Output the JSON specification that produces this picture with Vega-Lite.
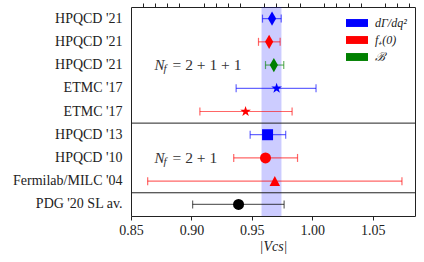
{
  "$schema": "https://vega.github.io/schema/vega-lite/v6.json",
  "width": 284,
  "height": 209,
  "autosize": {"type": "none"},
  "padding": {"left": 131, "top": 7, "right": 9, "bottom": 46},
  "config": {
    "view": {"stroke": "#222", "strokeWidth": 1},
    "font": "Liberation Serif"
  },
  "resolve": {"axis": {"x": "independent"}},
  "datasets": {
    "res": [
      {"key": "HPQCD '21|1", "obs": "dΓ/dq²", "marker": "diamond", "v": 0.9667, "lo": 0.9588, "hi": 0.9743},
      {"key": "HPQCD '21|2", "obs": "f₊(0)", "marker": "diamond", "v": 0.9643, "lo": 0.9555, "hi": 0.9734},
      {"key": "HPQCD '21|3", "obs": "ℬ", "marker": "diamond", "v": 0.9682, "lo": 0.9613, "hi": 0.9764},
      {"key": "ETMC '17|4", "obs": "dΓ/dq²", "marker": "star", "v": 0.9705, "lo": 0.937, "hi": 1.0031},
      {"key": "ETMC '17|5", "obs": "f₊(0)", "marker": "star", "v": 0.9448, "lo": 0.907, "hi": 0.9833},
      {"key": "HPQCD '13|6", "obs": "dΓ/dq²", "marker": "square", "v": 0.963, "lo": 0.9486, "hi": 0.978},
      {"key": "HPQCD '10|7", "obs": "f₊(0)", "marker": "circle", "v": 0.9613, "lo": 0.935, "hi": 0.9878},
      {"key": "Fermilab/MILC '04|8", "obs": "f₊(0)", "marker": "triangle", "v": 0.969, "lo": 0.8638, "hi": 1.0742},
      {"key": "PDG '20 SL av.|9", "obs": "PDG", "marker": "circle", "v": 0.939, "lo": 0.901, "hi": 0.9767}
    ],
    "band": [{"lo": 0.958, "hi": 0.9745}],
    "sep": [{"key": "HPQCD '13|6"}, {"key": "PDG '20 SL av.|9"}],
    "ann": [
      {"key": "HPQCD '21|3", "x": 0.8695, "n": "N", "f": "f", "rest": "= 2 + 1 + 1"},
      {"key": "HPQCD '10|7", "x": 0.8695, "n": "N", "f": "f", "rest": "= 2 + 1"}
    ]
  },
  "layer": [
    {
      "data": {"name": "band"},
      "mark": {"type": "rect", "fill": "#0000ff", "opacity": 0.2},
      "encoding": {
        "x": {"field": "lo", "type": "quantitative",
          "scale": {"domain": [0.85, 1.085], "nice": false, "zero": false},
          "axis": {
            "values": [0.85, 0.9, 0.95, 1.0, 1.05],
            "format": ".2f",
            "labelOverlap": false, "labelFlush": false,
            "domain": false, "grid": false,
            "tickSize": 4, "tickColor": "#222", "tickWidth": 1,
            "labelFont": "Liberation Serif", "labelFontSize": 14, "labelColor": "#222", "labelPadding": 3,
            "title": "|Vcs|", "titleFont": "Liberation Serif", "titleFontSize": 14,
            "titleFontStyle": "italic", "titleFontWeight": "normal", "titleColor": "#222", "titlePadding": 2
          }},
        "x2": {"field": "hi"}
      }
    },
    {
      "data": {"name": "sep"},
      "mark": {"type": "rule", "color": "#222", "strokeWidth": 1},
      "encoding": {
        "y": {"field": "key", "type": "nominal", "bandPosition": 0}
      }
    },
    {
      "data": {"name": "res"},
      "mark": {"type": "rule", "strokeWidth": 1.2, "opacity": 0.6},
      "encoding": {
        "y": {"field": "key", "type": "nominal",
          "scale": {"domain": ["HPQCD '21|1","HPQCD '21|2","HPQCD '21|3","ETMC '17|4","ETMC '17|5","HPQCD '13|6","HPQCD '10|7","Fermilab/MILC '04|8","PDG '20 SL av.|9"], "paddingInner": 0, "paddingOuter": 0},
          "axis": {"title": null, "ticks": false, "domain": false, "labelExpr": "split(datum.label, '|')[0]",
            "labelFont": "Liberation Serif", "labelFontSize": 14, "labelColor": "#222", "labelPadding": 9}},
        "x": {"field": "lo", "type": "quantitative",
          "axis": {
            "values": [0.86,0.87,0.88,0.89,0.91,0.92,0.93,0.94,0.96,0.97,0.98,0.99,1.01,1.02,1.03,1.04,1.06,1.07,1.08],
            "labels": false, "domain": false, "grid": false, "title": null,
            "tickSize": 4, "tickColor": "#222", "tickWidth": 1}},
        "x2": {"field": "hi"},
        "stroke": {"field": "obs", "type": "nominal", "legend": null,
          "scale": {"domain": ["dΓ/dq²", "f₊(0)", "ℬ", "PDG"], "range": ["#0000ff", "#ff0000", "#008000", "#000000"]}}
      }
    },
    {
      "data": {"name": "res"},
      "mark": {"type": "tick", "size": 8, "thickness": 1.2, "opacity": 0.6, "orient": "vertical"},
      "encoding": {
        "y": {"field": "key", "type": "nominal"},
        "x": {"field": "lo", "type": "quantitative", "axis": null},
        "fill": {"field": "obs", "type": "nominal", "legend": null,
          "scale": {"domain": ["dΓ/dq²", "f₊(0)", "ℬ", "PDG"], "range": ["#0000ff", "#ff0000", "#008000", "#000000"]}}
      }
    },
    {
      "data": {"name": "res"},
      "mark": {"type": "tick", "size": 8, "thickness": 1.2, "opacity": 0.6, "orient": "vertical"},
      "encoding": {
        "y": {"field": "key", "type": "nominal"},
        "x": {"field": "hi", "type": "quantitative", "axis": null},
        "fill": {"field": "obs", "type": "nominal", "legend": null}
      }
    },
    {
      "data": {"name": "res"},
      "transform": [{"filter": "datum.marker == 'diamond'"}],
      "mark": {"type": "point", "filled": true, "opacity": 1, "strokeWidth": 0, "shape": "M0,-1L0.58,0L0,1L-0.58,0Z", "size": 200},
      "encoding": {
        "y": {"field": "key", "type": "nominal"},
        "x": {"field": "v", "type": "quantitative", "axis": null},
        "color": {"field": "obs", "type": "nominal",
          "scale": {"domain": ["dΓ/dq²", "f₊(0)", "ℬ"], "range": ["#0000ff", "#ff0000", "#008000"]},
          "legend": {"orient": "none", "legendX": 215, "legendY": 5, "title": null,
            "symbolType": "M-1,-0.36L1,-0.36L1,0.36L-1,0.36Z", "symbolSize": 484,
            "symbolStrokeWidth": 0, "symbolOpacity": 1,
            "labelFont": "Liberation Serif", "labelFontStyle": "italic", "labelFontSize": 12, "labelColor": "#222",
            "labelOffset": 7, "rowPadding": -6}}
      }
    },
    {
      "data": {"name": "res"},
      "transform": [{"filter": "datum.marker == 'star'"}],
      "mark": {"type": "point", "filled": true, "opacity": 1, "strokeWidth": 0, "shape": "M0,-1L0.225,-0.309L0.951,-0.309L0.363,0.118L0.588,0.809L0,0.382L-0.588,0.809L-0.363,0.118L-0.951,-0.309L-0.225,-0.309Z", "size": 125},
      "encoding": {
        "y": {"field": "key", "type": "nominal"},
        "x": {"field": "v", "type": "quantitative", "axis": null},
        "color": {"field": "obs", "type": "nominal"}
      }
    },
    {
      "data": {"name": "res"},
      "transform": [{"filter": "datum.marker == 'square'"}],
      "mark": {"type": "point", "filled": true, "opacity": 1, "strokeWidth": 0, "shape": "square", "size": 121},
      "encoding": {
        "y": {"field": "key", "type": "nominal"},
        "x": {"field": "v", "type": "quantitative", "axis": null},
        "color": {"field": "obs", "type": "nominal"}
      }
    },
    {
      "data": {"name": "res"},
      "transform": [{"filter": "datum.marker == 'circle' && datum.obs != 'PDG'"}],
      "mark": {"type": "point", "filled": true, "opacity": 1, "strokeWidth": 0, "shape": "circle", "size": 121},
      "encoding": {
        "y": {"field": "key", "type": "nominal"},
        "x": {"field": "v", "type": "quantitative", "axis": null},
        "color": {"field": "obs", "type": "nominal"}
      }
    },
    {
      "data": {"name": "res"},
      "transform": [{"filter": "datum.obs == 'PDG'"}],
      "mark": {"type": "point", "filled": true, "opacity": 1, "strokeWidth": 0, "shape": "circle", "size": 121, "color": "#000000"},
      "encoding": {
        "y": {"field": "key", "type": "nominal"},
        "x": {"field": "v", "type": "quantitative", "axis": null}
      }
    },
    {
      "data": {"name": "res"},
      "transform": [{"filter": "datum.marker == 'triangle'"}],
      "mark": {"type": "point", "filled": true, "opacity": 1, "strokeWidth": 0, "shape": "M0,-1L1,0.9L-1,0.9Z", "size": 110},
      "encoding": {
        "y": {"field": "key", "type": "nominal"},
        "x": {"field": "v", "type": "quantitative", "axis": null},
        "color": {"field": "obs", "type": "nominal"}
      }
    },
    {
      "data": {"name": "ann"},
      "mark": {"type": "text", "align": "left", "baseline": "middle", "font": "Liberation Serif", "fontStyle": "italic", "fontSize": 15, "color": "#333"},
      "encoding": {
        "y": {"field": "key", "type": "nominal"},
        "x": {"field": "x", "type": "quantitative", "axis": null},
        "text": {"field": "n"}
      }
    },
    {
      "data": {"name": "ann"},
      "mark": {"type": "text", "align": "left", "baseline": "middle", "font": "Liberation Serif", "fontStyle": "italic", "fontSize": 11, "color": "#333", "dx": 9, "dy": 4},
      "encoding": {
        "y": {"field": "key", "type": "nominal"},
        "x": {"field": "x", "type": "quantitative", "axis": null},
        "text": {"field": "f"}
      }
    },
    {
      "data": {"name": "ann"},
      "mark": {"type": "text", "align": "left", "baseline": "middle", "font": "Liberation Serif", "fontSize": 15.5, "color": "#333", "dx": 18},
      "encoding": {
        "y": {"field": "key", "type": "nominal"},
        "x": {"field": "x", "type": "quantitative", "axis": null},
        "text": {"field": "rest"}
      }
    }
  ]
}
